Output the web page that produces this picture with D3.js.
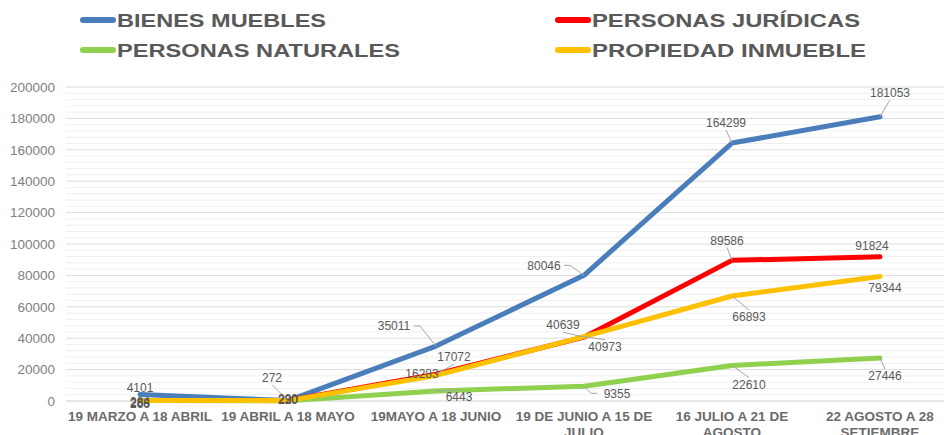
<!DOCTYPE html>
<html>
<head>
<meta charset="utf-8">
<script src="https://cdn.jsdelivr.net/npm/d3@7"></script>
<style>
  body { margin: 0; background: #fff; }
  svg { display: block; font-family: "Liberation Sans", Arial, sans-serif; }
</style>
</head>
<body>
<svg id="chart" width="944" height="435"></svg>
<script>
// categories (x axis), each may wrap on two lines
const categories = [
  ["19 MARZO A 18 ABRIL"],
  ["19 ABRIL A 18 MAYO"],
  ["19MAYO A 18 JUNIO"],
  ["19 DE JUNIO A 15 DE", "JULIO"],
  ["16 JULIO A 21 DE", "AGOSTO"],
  ["22 AGOSTO A 28", "SETIEMBRE"]
];
const seriesNames = ["BIENES MUEBLES", "PERSONAS JURÍDICAS", "PERSONAS NATURALES", "PROPIEDAD INMUEBLE"];
const bienesMuebles = [4101, 272, 35011, 80046, 164299, 181053];
const personasJuridicas = [284, 290, 17072, 40639, 89586, 91824];
const personasNaturales = [266, 220, 6443, 9355, 22610, 27446];
const propiedadInmueble = [288, 230, 16283, 40973, 66893, 79344];
const yTicks = [0, 20000, 40000, 60000, 80000, 100000, 120000, 140000, 160000, 180000, 200000];

const colors = ["#4a7ebb", "#ff0000", "#8fd04e", "#ffc000"];
// label offsets from the point (layout only)
const labelOffsets = [
  [[0,-7],[-16,-23],[-42,-20],[-40,-10],[-6,-20],[10,-24]],
  [[0,1],[0,-2],[18,-17],[-21,-12],[-5,-20],[-8,-11]],
  [[0,3],[0,-1],[23,6],[33,7],[17,19],[5,18]],
  [[0,2],[0,-1],[-14,-2],[21,10],[17,21],[5,11]]
];

const values = [bienesMuebles, personasJuridicas, personasNaturales, propiedadInmueble];
const svg = d3.select("#chart");

const x = d3.scaleBand().domain(d3.range(categories.length)).range([66, 954]);
const y = d3.scaleLinear().domain([0, 200000]).range([401, 87]);
const cx = i => x(i) + x.bandwidth() / 2;

// minor grid
svg.append("g").selectAll("line")
  .data(d3.range(0, 200001, 4000).filter(v => v % 20000 !== 0))
  .join("line")
  .attr("x1", 66).attr("x2", 944)
  .attr("y1", d => y(d)).attr("y2", d => y(d))
  .attr("stroke", "#f0f0f0").attr("stroke-width", 1);

// major grid
svg.append("g").selectAll("line")
  .data(yTicks)
  .join("line")
  .attr("x1", 66).attr("x2", 944)
  .attr("y1", d => y(d)).attr("y2", d => y(d))
  .attr("stroke", d => d === 0 ? "#d0d0d0" : "#dcdcdc").attr("stroke-width", 1);

// y axis labels
svg.append("g").selectAll("text")
  .data(yTicks)
  .join("text")
  .attr("x", 55).attr("y", d => y(d)).attr("dy", "0.35em")
  .attr("text-anchor", "end")
  .attr("font-size", 13.5).attr("fill", "#7f7f7f")
  .text(d => d);

// x axis labels
const xl = svg.append("g").selectAll("text")
  .data(categories)
  .join("text")
  .attr("text-anchor", "middle")
  .attr("font-size", 13.5).attr("font-weight", "bold").attr("fill", "#6b6b6b");
xl.selectAll("tspan")
  .data((d, i) => d.map(s => ({ s, i })))
  .join("tspan")
  .attr("x", d => cx(d.i))
  .attr("y", (d, j) => 421 + j * 16)
  .text(d => d.s);

// lines
const line = d3.line().x((d, i) => cx(i)).y(d => y(d));
svg.append("g").selectAll("path")
  .data(values)
  .join("path")
  .attr("d", d => line(d))
  .attr("fill", "none")
  .attr("stroke", (d, i) => colors[i])
  .attr("stroke-width", 5)
  .attr("stroke-linejoin", "round")
  .attr("stroke-linecap", "round");

// data labels with leader lines
const labels = [];
values.forEach((vals, s) => vals.forEach((v, i) => {
  const off = labelOffsets[s][i];
  labels.push({ v, px: cx(i), py: y(v), lx: cx(i) + off[0], ly: y(v) + off[1] });
}));

svg.append("g").selectAll("path")
  .data(labels.filter(d => Math.hypot(d.lx - d.px, d.ly - d.py) > 17))
  .join("path")
  .attr("d", d => {
    const dx = d.lx - d.px, dy = d.ly - d.py;
    let ex, ey;
    if (Math.abs(dx) > 25) { ex = d.lx - Math.sign(dx) * 20; ey = d.ly; return `M${d.px},${d.py}L${ex - Math.sign(dx) * 6},${ey}L${ex},${ey}`; }
    ex = d.lx; ey = d.ly - Math.sign(dy) * 7;
    return `M${d.px},${d.py}L${ex},${ey}`;
  })
  .attr("fill", "none").attr("stroke", "#a6a6a6").attr("stroke-width", 1);

svg.append("g").selectAll("text")
  .data(labels)
  .join("text")
  .attr("x", d => d.lx).attr("y", d => d.ly).attr("dy", "0.35em")
  .attr("text-anchor", "middle")
  .attr("font-size", 12).attr("fill", "#595959")
  .text(d => d.v);

// legend
const legendPos = [[80, 20], [555, 20], [80, 50], [555, 50]];
const legendW = [209, 268, 283, 274];
const lg = svg.append("g").selectAll("g")
  .data(seriesNames)
  .join("g")
  .attr("transform", (d, i) => `translate(${legendPos[i][0]},${legendPos[i][1]})`);
lg.append("line")
  .attr("x1", 3).attr("x2", 33).attr("y1", 0).attr("y2", 0)
  .attr("stroke", (d, i) => colors[i]).attr("stroke-width", 6).attr("stroke-linecap", "round");
lg.append("text")
  .attr("x", 37).attr("y", 0).attr("dy", "0.36em")
  .attr("font-size", 19).attr("font-weight", "bold").attr("fill", "#595959")
  .attr("textLength", (d, i) => legendW[i]).attr("lengthAdjust", "spacingAndGlyphs")
  .text(d => d);
</script>
</body>
</html>
